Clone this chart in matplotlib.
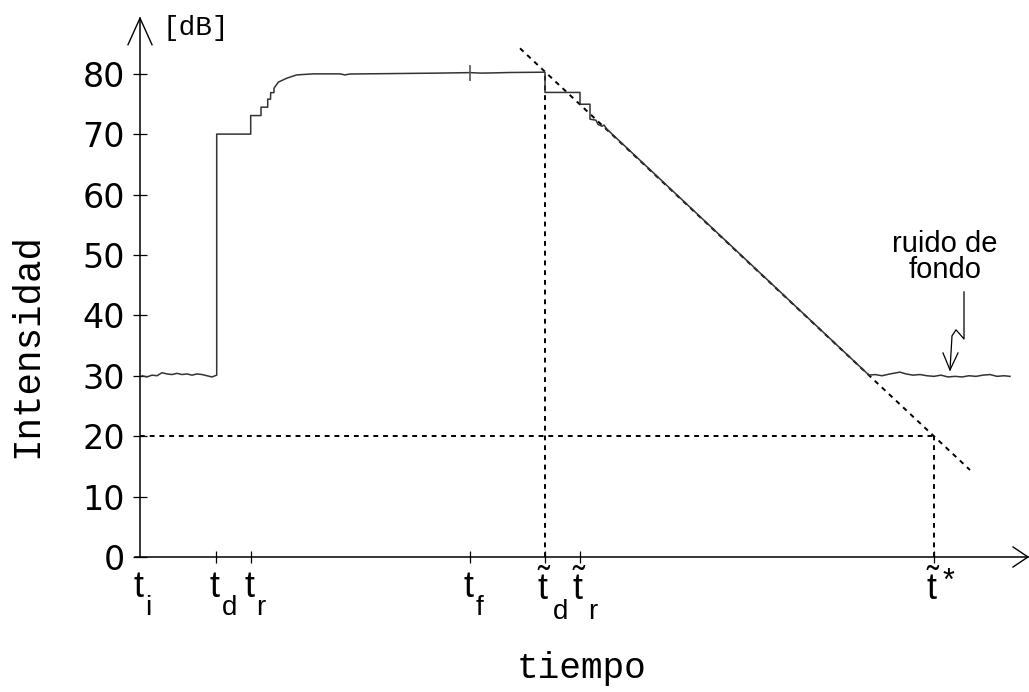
import matplotlib
matplotlib.use("Agg")
import matplotlib.pyplot as plt

plt.rcParams["mathtext.fontset"] = "custom"
plt.rcParams["mathtext.rm"] = "Liberation Sans"
plt.rcParams["mathtext.it"] = "Liberation Sans"

# ---------------- data ----------------
time = [0.2, 0.7, 1.2, 1.7, 2.2, 2.7, 3.2, 3.7, 4.2, 4.7, 5.2, 5.7, 6.2, 6.7, 7.2, 7.67,
        7.67, 11.07, 11.07, 12.1, 12.1, 12.77, 12.77, 13.05, 13.07, 13.4, 13.4, 13.83, 14.67,
        15.67, 17.33, 20.0, 20.5, 21.0, 24.0, 27.0, 30.0, 33.0, 34.0, 35.0, 37.0, 40.5,
        40.5, 44.0, 44.0, 45.0, 45.0, 45.6, 45.8, 46.2, 46.4, 46.7, 72.9,
        73.5, 74.2, 75.0, 76.0, 76.6, 77.3, 78.0, 78.7, 79.4, 80.1, 80.8, 81.5, 82.2,
        82.9, 83.6, 84.3, 85.0, 85.7, 86.4, 87.0]
level = [30.0, 29.8, 30.1, 30.0, 30.5, 30.3, 30.2, 30.4, 30.2, 30.3, 30.1, 30.3, 30.2, 30.0, 29.8, 30.1,
         70.0, 70.0, 73.07, 73.07, 74.46, 74.46, 75.78, 75.78, 76.87, 76.87, 77.6, 78.6, 79.25,
         79.8, 79.97, 79.97, 79.8, 79.95, 80.0, 80.05, 80.1, 80.18, 80.1, 80.12, 80.2, 80.25,
         76.9, 76.9, 74.95, 74.95, 72.47, 72.3, 71.6, 71.3, 71.5, 70.8, 30.1,
         30.2, 30.0, 30.3, 30.6, 30.3, 30.1, 30.2, 30.0, 29.9, 30.1, 29.8, 29.9, 29.8,
         30.0, 29.9, 30.1, 30.2, 29.9, 30.0, 29.9]

fit_time = [38.0, 83.0]          # dotted regression line
fit_level = [84.2, 14.4]
ref_level = 20                   # dotted horizontal reference level
t_f_mark = (33.0, 80.18)         # small mark on the curve at t_f

ytick_values = [0, 10, 20, 30, 40, 50, 60, 70, 80]
xtick_pos = [0.0, 7.6, 11.05, 33.0, 40.5, 43.95, 79.4]
xtick_sub = ["i", "d", "r", "f", "d", "r", ""]
xtick_sup = ["", "", "", "", "", "", "*"]
xtick_tilde = [False, False, False, False, True, True, True]

noise_text = "ruido de\nfondo"
noise_text_pos = (80.5, 49.6)
noise_arrow_x = [82.4, 82.4, 81.6, 81.2, 81.0]
noise_arrow_y = [43.87, 36.09, 37.6, 36.6, 30.96]
noise_head_x = [80.3, 81.0, 81.8]
noise_head_y = [33.77, 30.96, 33.77]

# ---------------- figure ----------------
fig = plt.figure(figsize=(10.29, 6.92), dpi=100)
ax = fig.add_axes([0, 0, 1, 1])
ax.set_xlim(-14, 88.9)
ax.set_ylim(-22.35, 92.2)
ax.patch.set_alpha(0)

for s in ("top", "right"):
    ax.spines[s].set_visible(False)
ax.spines["left"].set_position(("data", 0))
ax.spines["bottom"].set_position(("data", 0))
ax.spines["left"].set_bounds(0, 89.2)
ax.spines["bottom"].set_bounds(-0.5, 88.8)
for s in ("left", "bottom"):
    ax.spines[s].set_linewidth(1.1)

# arrow heads of the axes
ax.plot([-1.2, 0, 1.2], [84.8, 89.2, 84.8], color="black", lw=1.0, clip_on=False)
ax.plot([87.3, 88.8, 87.3], [1.66, 0, -1.66], color="black", lw=1.0, clip_on=False)

# y ticks
ax.set_yticks(ytick_values)
ax.set_yticklabels([str(v) for v in ytick_values], fontsize=24, family="DejaVu Sans")
ax.tick_params(axis="y", direction="inout", length=9.4, width=0.9, pad=6.1)

# x ticks (labels drawn below as composed text)
ax.set_xticks([p for p in xtick_pos if p > 0])
ax.set_xticklabels([])
ax.tick_params(axis="x", direction="inout", length=9.0, width=0.9)

lab_font = "Liberation Sans"
for pos, sub, sup, tl in zip(xtick_pos, xtick_sub, xtick_sup, xtick_tilde):
    main = r"$\tilde{\mathrm{t}}$" if tl else "t"
    ax.annotate(main, xy=(pos, 0), xytext=(4.8 if tl else 2.6, -31.0 if tl else -28.8),
                textcoords="offset points", ha="right", va="baseline",
                fontsize=26, family=lab_font)
    if sub:
        ax.annotate(sub, xy=(pos, 0), xytext=(6.0 if tl else 4.0, -45.0 if tl else -41.5),
                    textcoords="offset points", ha="left", va="baseline",
                    fontsize=20, family=lab_font)
    if sup:
        ax.annotate(sup, xy=(pos, 0), xytext=(6.0, -24.0), textcoords="offset points",
                    ha="left", va="baseline", fontsize=22, family=lab_font)

# dotted guide lines
dot = (0, (2.5, 2.5))
ax.plot([0, xtick_pos[6]], [ref_level, ref_level], color="black", lw=1.4, ls=dot)
ax.plot([xtick_pos[4], xtick_pos[4]], [0, level[41]], color="black", lw=1.4, ls=dot)
ax.plot([xtick_pos[6], xtick_pos[6]], [0, ref_level], color="black", lw=1.4, ls=dot)
ax.plot(fit_time, fit_level, color="black", lw=1.4, ls=dot)

# measured curve
ax.plot(time, level, color="#333333", lw=1.1)
ax.plot([t_f_mark[0]], [t_f_mark[1]], marker="|", markersize=12, mew=1.2, color="#555555")

# background noise annotation
ax.text(noise_text_pos[0], noise_text_pos[1], noise_text, ha="center", va="center",
        fontsize=21, family=lab_font, linespacing=0.92)
ax.plot(noise_arrow_x, noise_arrow_y, color="black", lw=0.9)
ax.plot(noise_head_x, noise_head_y, color="black", lw=0.9)

# axis labels
ax.set_ylabel("Intensidad", fontsize=27, family="Liberation Mono", va="center")
ax.yaxis.set_label_coords(27 / 1029, 1 - 345 / 692)
ax.set_xlabel("tiempo", fontsize=26, family="Liberation Mono", va="center")
ax.xaxis.set_label_coords(581 / 1029, 1 - 668 / 692)
ax.text(5.6, 87.6, "[dB]", fontsize=20, family="Liberation Mono",
        ha="center", va="center")

fig.savefig("out.png", dpi=100)
